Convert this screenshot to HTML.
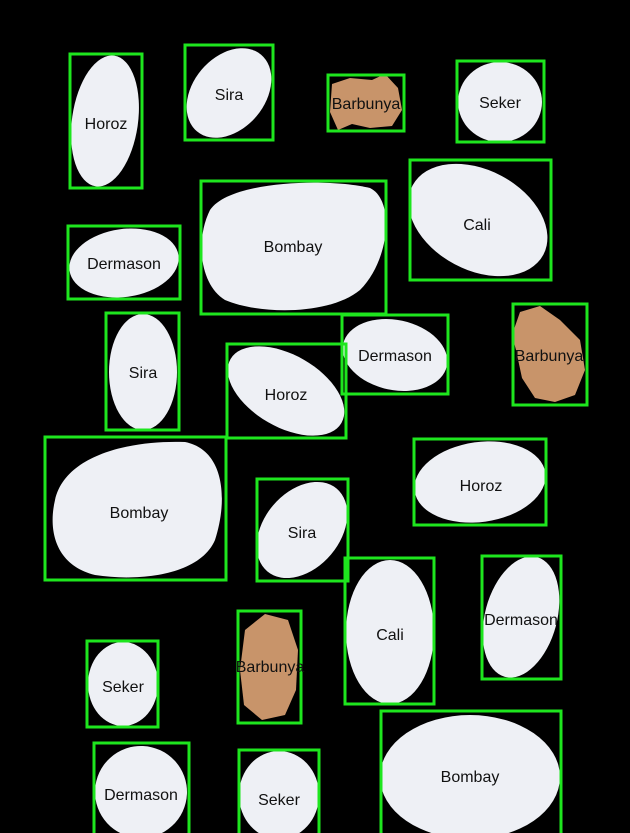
<!DOCTYPE html>
<html><head><meta charset="utf-8"><style>
html,body{margin:0;padding:0;background:#000;}
svg{display:block}
text{font-family:"Liberation Sans",sans-serif;font-size:16px;fill:#111;text-anchor:middle;dominant-baseline:middle}
.b{fill:#eef0f5}
.r{fill:none;stroke:#1ee61e;stroke-width:3}
.br{fill:#c8946a}
</style></head><body>
<svg width="630" height="833" viewBox="0 0 630 833" xmlns="http://www.w3.org/2000/svg">
<rect width="630" height="833" fill="#000"/>
<!-- beans -->
<ellipse class="b" cx="105" cy="121" rx="33" ry="66" transform="rotate(8 105 121)"/>
<ellipse class="b" cx="229" cy="93" rx="36" ry="50" transform="rotate(40 229 93)"/>
<path class="br" d="M332,84 L350,78 L372,80 L385,74 L398,88 L402,110 L392,126 L370,128 L352,124 L338,130 L330,112 Z"/>
<ellipse class="b" cx="500" cy="102" rx="42" ry="40"/>
<path class="b" d="M210,210 C230,180 330,178 370,188 C395,200 390,260 360,290 C330,315 260,315 225,300 C200,285 195,240 210,210 Z"/>
<ellipse class="b" cx="478" cy="220" rx="74" ry="50" transform="rotate(28 478 220)"/>
<ellipse class="b" cx="124" cy="263" rx="55" ry="34" transform="rotate(-8 124 263)"/>
<ellipse class="b" cx="143" cy="372" rx="34" ry="58"/>
<ellipse class="b" cx="286" cy="391" rx="64" ry="36" transform="rotate(30 286 391)"/>
<ellipse class="b" cx="395" cy="355" rx="53" ry="35" transform="rotate(12 395 355)"/>
<path class="br" d="M520,312 L540,306 L560,320 L580,340 L585,370 L575,395 L555,402 L535,398 L522,378 L516,350 L512,335 Z"/>
<path class="b" d="M55,500 C65,455 130,440 185,442 C225,450 228,500 215,540 C200,575 140,582 95,575 C55,565 48,530 55,500 Z"/>
<ellipse class="b" cx="302" cy="530" rx="38" ry="54" transform="rotate(40 302 530)"/>
<ellipse class="b" cx="480" cy="482" rx="66" ry="40" transform="rotate(-8 480 482)"/>
<ellipse class="b" cx="390" cy="632" rx="44" ry="72"/>
<ellipse class="b" cx="521" cy="617" rx="36" ry="62" transform="rotate(15 521 617)"/>
<path class="br" d="M245,630 L265,614 L288,620 L298,650 L296,690 L285,715 L262,720 L244,705 L240,670 Z"/>
<ellipse class="b" cx="123" cy="684" rx="35" ry="42"/>
<ellipse class="b" cx="141" cy="792" rx="46" ry="46" transform="rotate(-20 141 792)"/>
<ellipse class="b" cx="279" cy="795" rx="40" ry="44"/>
<ellipse class="b" cx="470" cy="777" rx="90" ry="62"/>
<!-- boxes -->
<rect class="r" x="70" y="54" width="72" height="134"/>
<rect class="r" x="185" y="45" width="88" height="95"/>
<rect class="r" x="328" y="75" width="76" height="56"/>
<rect class="r" x="457" y="61" width="87" height="81"/>
<rect class="r" x="201" y="181" width="185" height="133"/>
<rect class="r" x="410" y="160" width="141" height="120"/>
<rect class="r" x="68" y="226" width="112" height="73"/>
<rect class="r" x="106" y="313" width="73" height="117"/>
<rect class="r" x="227" y="344" width="119" height="94"/>
<rect class="r" x="342" y="315" width="106" height="79"/>
<rect class="r" x="513" y="304" width="74" height="101"/>
<rect class="r" x="45" y="437" width="181" height="143"/>
<rect class="r" x="257" y="479" width="91" height="102"/>
<rect class="r" x="414" y="439" width="132" height="86"/>
<rect class="r" x="345" y="558" width="89" height="146"/>
<rect class="r" x="482" y="556" width="79" height="123"/>
<rect class="r" x="238" y="611" width="63" height="112"/>
<rect class="r" x="87" y="641" width="71" height="86"/>
<rect class="r" x="94" y="743" width="95" height="95"/>
<rect class="r" x="239" y="750" width="80" height="90"/>
<rect class="r" x="381" y="711" width="180" height="130"/>
<!-- labels -->
<text x="106" y="125">Horoz</text>
<text x="229" y="96">Sira</text>
<text x="366" y="105">Barbunya</text>
<text x="500" y="104">Seker</text>
<text x="293" y="248">Bombay</text>
<text x="477" y="226">Cali</text>
<text x="124" y="265">Dermason</text>
<text x="143" y="374">Sira</text>
<text x="286" y="396">Horoz</text>
<text x="395" y="357">Dermason</text>
<text x="549" y="357">Barbunya</text>
<text x="139" y="514">Bombay</text>
<text x="302" y="534">Sira</text>
<text x="481" y="487">Horoz</text>
<text x="390" y="636">Cali</text>
<text x="521" y="621">Dermason</text>
<text x="270" y="668">Barbunya</text>
<text x="123" y="688">Seker</text>
<text x="141" y="796">Dermason</text>
<text x="279" y="801">Seker</text>
<text x="470" y="778">Bombay</text>
</svg>
</body></html>
